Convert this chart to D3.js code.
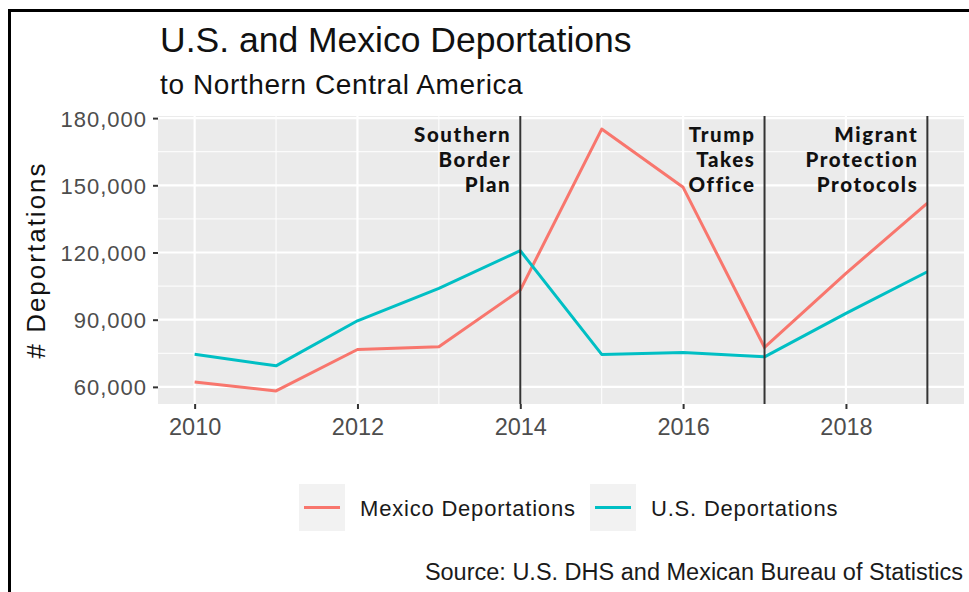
<!DOCTYPE html>
<html>
<head>
<meta charset="utf-8">
<script src="https://cdn.jsdelivr.net/npm/d3@7"></script>
<style>
  body { margin: 0; background: #fff; }
  text { font-family: "Liberation Sans", Arial, sans-serif; }
</style>
</head>
<body>
<svg id="chart" width="969" height="592"></svg>
<script>
// data
const years = [2010, 2011, 2012, 2013, 2014, 2015, 2016, 2017, 2018, 2019];
const mexico = [62200, 58200, 76700, 77900, 103200, 175100, 149100, 77600, 110700, 142000];
const us = [74600, 69400, 89500, 104000, 120800, 74500, 75400, 73400, 92800, 111400];

const xTicks = [2010, 2012, 2014, 2016, 2018];
const xMinor = [2011, 2013, 2015, 2017, 2019];
const yTicks = [60000, 90000, 120000, 150000, 180000];
const yMinor = [75000, 105000, 135000, 165000];

const events = [2014, 2017, 2019];
const eventLabels = [
  ["Southern", "Border", "Plan"],
  ["Trump", "Takes", "Office"],
  ["Migrant", "Protection", "Protocols"]
];

const seriesNames = ["Mexico Deportations", "U.S. Deportations"];
const seriesColors = ["#F8766D", "#00BFC4"];

var svg = d3.select("#chart");

// frame round the picture
svg.append("rect")
  .attr("x", 9.5).attr("y", 10.5)
  .attr("width", 1000).attr("height", 700)
  .attr("fill", "none").attr("stroke", "#000").attr("stroke-width", 3);

var panel = { left: 158, right: 964, top: 116, bottom: 404 };

// ggplot style 5% expansion
var xExt = d3.extent(years), xPad = (xExt[1] - xExt[0]) * 0.05;
var allY = mexico.concat(us);
var yExt = d3.extent(allY), yPad = (yExt[1] - yExt[0]) * 0.05;

var x = d3.scaleLinear()
  .domain([xExt[0] - xPad, xExt[1] + xPad])
  .range([panel.left, panel.right]);
var y = d3.scaleLinear()
  .domain([yExt[0] - yPad, yExt[1] + yPad])
  .range([panel.bottom, panel.top]);

// panel background
svg.append("rect")
  .attr("x", panel.left).attr("y", panel.top)
  .attr("width", panel.right - panel.left)
  .attr("height", panel.bottom - panel.top)
  .attr("fill", "#EBEBEB");

var grid = svg.append("g");
grid.selectAll(".ymin").data(yMinor).enter().append("line")
  .attr("x1", panel.left).attr("x2", panel.right)
  .attr("y1", d => y(d)).attr("y2", d => y(d))
  .attr("stroke", "#fff").attr("stroke-width", 1);
grid.selectAll(".xmin").data(xMinor).enter().append("line")
  .attr("y1", panel.top).attr("y2", panel.bottom)
  .attr("x1", d => x(d)).attr("x2", d => x(d))
  .attr("stroke", "#fff").attr("stroke-width", 1);
grid.selectAll(".ymaj").data(yTicks).enter().append("line")
  .attr("x1", panel.left).attr("x2", panel.right)
  .attr("y1", d => y(d)).attr("y2", d => y(d))
  .attr("stroke", "#fff").attr("stroke-width", 2.2);
grid.selectAll(".xmaj").data(xTicks).enter().append("line")
  .attr("y1", panel.top).attr("y2", panel.bottom)
  .attr("x1", d => x(d)).attr("x2", d => x(d))
  .attr("stroke", "#fff").attr("stroke-width", 2.2);

// axes
var yAxis = svg.append("g")
  .attr("transform", "translate(" + panel.left + ",0)")
  .call(d3.axisLeft(y).tickValues(yTicks).tickFormat(d3.format(",")).tickSize(5).tickPadding(6));
var xAxis = svg.append("g")
  .attr("transform", "translate(0," + panel.bottom + ")")
  .call(d3.axisBottom(x).tickValues(xTicks).tickFormat(d3.format("d")).tickSize(5).tickPadding(8));

[yAxis, xAxis].forEach(function (a) {
  a.select(".domain").remove();
  a.selectAll(".tick line").attr("stroke", "#333").attr("stroke-width", 2);
  a.selectAll(".tick text")
    .attr("fill", "#4D4D4D")
    .style("font-family", "'Liberation Sans', Arial, sans-serif");
});
yAxis.selectAll(".tick text").style("font-size", "22px").style("letter-spacing", "1px").attr("dy", "0.36em");
xAxis.selectAll(".tick text").style("font-size", "23.5px").attr("dy", "0.75em");

// series lines
var line = d3.line()
  .x((d, i) => x(years[i]))
  .y(d => y(d));

[mexico, us].forEach(function (s, i) {
  svg.append("path")
    .datum(s)
    .attr("d", line)
    .attr("fill", "none")
    .attr("stroke", seriesColors[i])
    .attr("stroke-width", 3)
    .attr("stroke-linejoin", "round");
});

// event lines and labels
svg.selectAll(".event").data(events).enter().append("line")
  .attr("x1", d => x(d)).attr("x2", d => x(d))
  .attr("y1", panel.top).attr("y2", panel.bottom)
  .attr("stroke", "#333").attr("stroke-width", 2);

events.forEach(function (e, i) {
  var t = svg.append("text")
    .attr("text-anchor", "end")
    .attr("fill", "#111")
    .style("font-family", "Lato, 'Open Sans', sans-serif")
    .style("font-weight", 900)
    .style("font-size", "20.5px")
    .style("letter-spacing", "1.6px");
  eventLabels[i].forEach(function (w, j) {
    t.append("tspan")
      .attr("x", x(e) - 9)
      .attr("y", 142 + j * 25)
      .text(w);
  });
});

// titles
svg.append("text")
  .attr("x", 160).attr("y", 52)
  .attr("fill", "#111")
  .style("font-size", "35.5px")
  .text("U.S. and Mexico Deportations");
svg.append("text")
  .attr("x", 160).attr("y", 94)
  .attr("fill", "#111")
  .style("font-size", "28px")
  .style("letter-spacing", "0.6px")
  .text("to Northern Central America");

svg.append("text")
  .attr("transform", "translate(44.5," + ((panel.top + panel.bottom) / 2) + ") rotate(-90)")
  .attr("text-anchor", "middle")
  .attr("fill", "#111")
  .style("font-size", "26px")
  .style("letter-spacing", "2px")
  .text("# Deportations");

// legend
var legendX = [299, 590];
var legend = svg.append("g");
seriesNames.forEach(function (n, i) {
  var g = legend.append("g").attr("transform", "translate(" + legendX[i] + ",484)");
  g.append("rect")
    .attr("width", 46).attr("height", 47)
    .attr("fill", "#F2F2F2");
  g.append("line")
    .attr("x1", 5).attr("x2", 41)
    .attr("y1", 23.5).attr("y2", 23.5)
    .attr("stroke", seriesColors[i]).attr("stroke-width", 3);
  g.append("text")
    .attr("x", 61).attr("y", 32)
    .attr("fill", "#1a1a1a")
    .style("font-size", "22px")
    .style("letter-spacing", "0.8px")
    .text(n);
});

// caption
svg.append("text")
  .attr("x", 963).attr("y", 580)
  .attr("text-anchor", "end")
  .attr("fill", "#1a1a1a")
  .style("font-size", "23.5px")
  .text("Source: U.S. DHS and Mexican Bureau of Statistics");
</script>
</body>
</html>
